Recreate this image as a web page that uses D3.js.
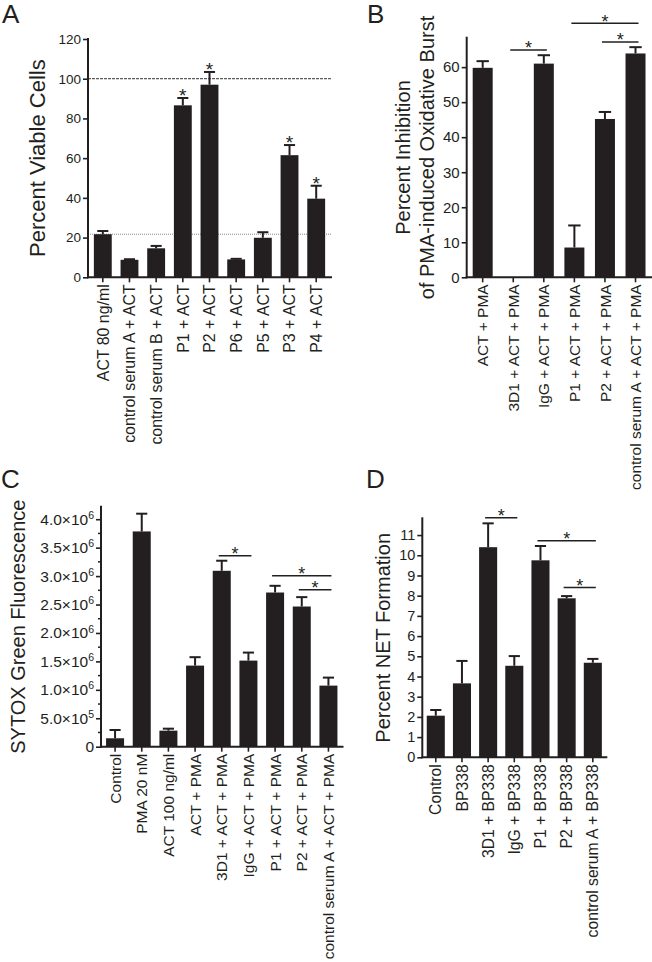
<!DOCTYPE html>
<html><head><meta charset="utf-8">
<script src="https://cdn.jsdelivr.net/npm/d3@7"></script>
<style>
body{margin:0;background:#fff}
svg{display:block}
text{font-family:"Liberation Sans",Arial,Helvetica,sans-serif;fill:#231f20}
</style>
</head><body>
<svg id="chart" width="652" height="962"></svg>
<script>
// ---------- Panel A ----------
const catsA = ["ACT 80 ng/ml","control serum A + ACT","control serum B + ACT","P1 + ACT","P2 + ACT","P6 + ACT","P5 + ACT","P3 + ACT","P4 + ACT"];
const valsA = [21.7, 8.8, 14.6, 86.6, 97.0, 9.0, 19.9, 61.5, 39.6];
const errA  = [1.6, 0.3, 1.2, 3.7, 6.4, 0.3, 2.8, 5.1, 6.5];
const starA = [false,false,false,true,true,false,false,true,true];
const ticksA = [0,20,40,60,80,100,120];
const refA = [100, 21.7];

// ---------- Panel B ----------
const catsB = ["ACT + PMA","3D1 + ACT + PMA","IgG + ACT + PMA","P1 + ACT + PMA","P2 + ACT + PMA","control serum A + ACT + PMA"];
const valsB = [59.8, 0, 61.0, 8.5, 45.2, 63.9];
const errB  = [1.9, 0, 2.4, 6.3, 2.0, 1.8];
const ticksB = [0,10,20,30,40,50,60];
const sigB = [[1,2,64.9],[3,5,72.5],[4,5,67.2]];

// ---------- Panel C ----------
const catsC = ["Control","PMA 20 nM","ACT 100 ng/ml","ACT + PMA","3D1 + ACT + PMA","IgG + ACT + PMA","P1 + ACT + PMA","P2 + ACT + PMA","control serum A + ACT + PMA"];
const valsC = [0.148e6, 3.785e6, 0.282e6, 1.426e6, 3.093e6, 1.514e6, 2.711e6, 2.465e6, 1.074e6];
const errC  = [0.146e6, 0.312e6, 0.035e6, 0.148e6, 0.177e6, 0.141e6, 0.118e6, 0.165e6, 0.141e6];
const ticksC = [0,0.5e6,1.0e6,1.5e6,2.0e6,2.5e6,3.0e6,3.5e6,4.0e6];
const minorC = [0.25e6,0.75e6,1.25e6,1.75e6,2.25e6,2.75e6,3.25e6,3.75e6];
const sigC = [[4,5,3.357e6],[6,8,3.005e6],[7,8,2.759e6]];

// ---------- Panel D ----------
const catsD = ["Control","BP338","3D1 + BP338","IgG + BP338","P1 + BP338","P2 + BP338","control serum A + BP338"];
const valsD = [2.06, 3.66, 10.4, 4.53, 9.75, 7.87, 4.68];
const errD  = [0.28, 1.11, 1.18, 0.48, 0.71, 0.11, 0.19];
const ticksD = [0,1,2,3,4,5,6,7,8,9,10,11];
const sigD = [[2,3,11.86],[4,6,10.72],[5,6,8.40]];

const INK = "#231f20";
const svg = d3.select("#chart");

function sciLabel(sel){
  sel.each(function(d){
    const t = d3.select(this);
    t.text(null);
    if (d === 0){ t.text("0"); return; }
    const e = Math.floor(Math.log10(d));
    const m = (d/Math.pow(10,e)).toFixed(1);
    t.append("tspan").text(m + "×10");
    t.append("tspan").attr("dy","-0.55em").attr("font-size","0.68em").text(e);
  });
}

function panel(o){
  const g = svg.append("g");
  const x = d3.scaleBand().domain(o.cats).range(o.xr).paddingInner(o.pi).paddingOuter(o.po);
  const y = d3.scaleLinear().domain([0,o.ymax]).range(o.yr);
  const bw = x.bandwidth();
  const cx = i => x(o.cats[i]) + bw/2;

  if (o.refs){
    g.append("line").attr("x1",o.xr[0]).attr("x2",o.xr[1]).attr("y1",y(o.refs[0])).attr("y2",y(o.refs[0]))
      .attr("stroke","#333").attr("stroke-width",1).attr("stroke-dasharray","3,1");
    g.append("line").attr("x1",o.xr[0]).attr("x2",o.xr[1]).attr("y1",y(o.refs[1])).attr("y2",y(o.refs[1]))
      .attr("stroke","#888").attr("stroke-width",1).attr("stroke-dasharray","1,1");
  }

  g.selectAll("rect.bar").data(o.vals).join("rect").attr("class","bar")
    .attr("x",(d,i)=>x(o.cats[i])).attr("y",d=>y(d)).attr("width",bw)
    .attr("height",d=>y(0)-y(d)).attr("fill",INK);

  const cw = bw*0.62;
  o.vals.forEach((v,i)=>{
    const e = o.errs[i];
    if (e <= 0) return;
    g.append("line").attr("x1",cx(i)).attr("x2",cx(i)).attr("y1",y(v)).attr("y2",y(v+e))
      .attr("stroke",INK).attr("stroke-width",2);
    g.append("line").attr("x1",cx(i)-cw/2).attr("x2",cx(i)+cw/2).attr("y1",y(v+e)).attr("y2",y(v+e))
      .attr("stroke",INK).attr("stroke-width",2);
    if (o.stars && o.stars[i]){
      g.append("text").attr("x",cx(i)).attr("y",y(v+e)+4).attr("text-anchor","middle")
        .attr("font-size",19).text("*");
    }
  });

  (o.sig||[]).forEach(s=>{
    const yy = y(s[2]);
    const x1 = cx(s[0]) - 3, x2 = cx(s[1]) + 3;
    g.append("line").attr("x1",x1).attr("x2",x2).attr("y1",yy).attr("y2",yy)
      .attr("stroke",INK).attr("stroke-width",1.5);
    g.append("text").attr("x",(x1+x2)/2).attr("y",yy+4.5).attr("text-anchor","middle")
      .attr("font-size",18).text("*");
  });

  const ya = d3.axisLeft(y).tickValues(o.ticks).tickSize(5).tickSizeOuter(0).tickPadding(2);
  if (!o.sci) ya.tickFormat(d3.format("d"));
  const yg = g.append("g").attr("transform",`translate(${o.xr[0]},0)`).call(ya);
  yg.select(".domain").attr("d",`M0,${o.yr[1]}V${y(0)}`);
  yg.selectAll("text").attr("font-size",o.tickFs).attr("fill","#333").style("font-family",'"Liberation Sans",Arial,sans-serif');
  if (o.sci) yg.selectAll(".tick text").call(sciLabel);
  if (o.minor){
    yg.selectAll("line.minor").data(o.minor).join("line").attr("class","minor")
      .attr("x1",-3).attr("x2",0).attr("y1",d=>y(d)).attr("y2",d=>y(d)).attr("stroke",INK).attr("stroke-width",1.5);
  }

  const xa = d3.axisBottom(x).tickSize(5).tickSizeOuter(0).tickPadding(0);
  const xg = g.append("g").attr("transform",`translate(0,${y(0)})`).call(xa);
  xg.select(".domain").attr("d",`M${o.xr[0]},0H${o.xr[1]}`);
  xg.selectAll(".tick text").attr("font-size",o.xFs).attr("fill","#333")
    .style("font-family",'"Liberation Sans",Arial,sans-serif')
    .attr("text-anchor","end").attr("transform","rotate(-90)")
    .attr("x",-7).attr("y",0).attr("dy","0.36em");

  [yg,xg].forEach(a=>{
    a.select(".domain").attr("stroke",INK).attr("stroke-width",2).attr("stroke-linecap","square");
    a.selectAll(".tick line").attr("stroke",INK).attr("stroke-width",1.6);
    a.attr("font-size",null);
  });

  const cy = (o.yr[1] + y(0))/2;
  o.title.forEach((t,k)=>{
    g.append("text").attr("transform",`translate(${o.titleX[k]},${cy}) rotate(-90)`)
      .attr("text-anchor","middle").attr("font-size",o.titleFs).text(t);
  });

  g.append("text").attr("x",o.letter[1]).attr("y",o.letter[2]).attr("font-size",26).text(o.letter[0]);
}

panel({cats:catsA, vals:valsA, errs:errA, stars:starA, refs:refA,
  xr:[88,331], pi:0.33, po:0.22, ymax:120, yr:[277.3,39], ticks:ticksA,
  tickFs:13.5, xFs:15.9, title:["Percent Viable Cells"], titleX:[45], titleFs:22,
  letter:["A",2,23]});

panel({cats:catsB, vals:valsB, errs:errB, sig:sigB,
  xr:[466.7,651.5], pi:0.346, po:0.196, ymax:68.4, yr:[277.3,37.7], ticks:ticksB,
  tickFs:15, xFs:15.5, title:["Percent Inhibition","of PMA-induced Oxidative Burst"], titleX:[409.5,433.5], titleFs:20,
  letter:["B",367,23]});

panel({cats:catsC, vals:valsC, errs:errC, sig:sigC, sci:true, minor:minorC,
  xr:[101,342.5], pi:0.325, po:0.19, ymax:4.22e6, yr:[746.7,506.7], ticks:ticksC,
  tickFs:15.5, xFs:15.5, title:["SYTOX Green Fluorescence"], titleX:[25], titleFs:20,
  letter:["C",1,488]});

panel({cats:catsD, vals:valsD, errs:errD, sig:sigD,
  xr:[422.3,606.3], pi:0.31, po:0.17, ymax:11.83, yr:[757.3,518.3], ticks:ticksD,
  tickFs:14.5, xFs:15.7, title:["Percent NET Formation"], titleX:[390], titleFs:20,
  letter:["D",366,488]});
</script>
</body></html>
